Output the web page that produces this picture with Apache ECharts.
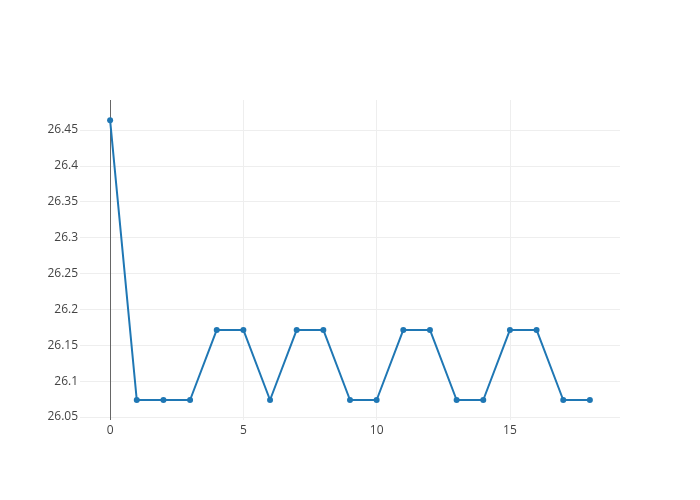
<!DOCTYPE html>
<html>
<head>
<meta charset="utf-8">
<script src="https://cdn.jsdelivr.net/npm/echarts@6/dist/echarts.min.js"></script>
<style>html,body{margin:0;padding:0;background:#fff}#c{width:700px;height:500px}</style>
</head>
<body>
<div id="c"></div>
<script>
const xValues = [0,1,2,3,4,5,6,7,8,9,10,11,12,13,14,15,16,17,18];
const yValues = [26.4635,26.0737,26.0737,26.0737,26.1713,26.1713,26.0737,26.1713,26.1713,26.0737,26.0737,26.1713,26.1713,26.0737,26.0737,26.1713,26.1713,26.0737,26.0737];
const xTicks = [0,5,10,15];
const yTicks = [26.05,26.1,26.15,26.2,26.25,26.3,26.35,26.4,26.45];
const xRange = [-1.13, 19.13];
const yRange = [26.0458, 26.4918];

const chart = echarts.init(document.getElementById('c'), null, {renderer:'canvas'});
const font = '"Open Sans", sans-serif';
chart.setOption({
  animation:false,
  backgroundColor:'#fff',
  grid:{left:80,right:80,top:100,bottom:80,containLabel:false},
  xAxis:{
    type:'value', min:xRange[0], max:xRange[1],
    axisLine:{show:false}, axisTick:{show:false, customValues:xTicks},
    axisLabel:{customValues:xTicks, color:'#444', fontFamily:font, fontSize:12, margin:5, formatter:v=>String(v)},
    splitLine:{show:true, lineStyle:{color:'#eee', width:1}}
  },
  yAxis:{
    type:'value', min:yRange[0], max:yRange[1],
    axisLine:{show:false}, axisTick:{show:false, customValues:yTicks},
    axisLabel:{customValues:yTicks, color:'#444', fontFamily:font, fontSize:12, margin:2, formatter:v=>String(parseFloat(v.toFixed(2)))},
    splitLine:{show:true, lineStyle:{color:'#eee', width:1}}
  },
  series:[{
    type:'line',
    data:xValues.map((x,i)=>[x,yValues[i]]),
    lineStyle:{color:'#1f77b4', width:2},
    itemStyle:{color:'#1f77b4'},
    symbol:'circle', symbolSize:6, showSymbol:true,
    z:3,
    markLine:{
      silent:true, symbol:['none','none'], label:{show:false},
      lineStyle:{color:'#666', width:1, type:'solid'},
      data:[{xAxis:0}], z:2
    }
  }]
});
</script>
</body>
</html>
